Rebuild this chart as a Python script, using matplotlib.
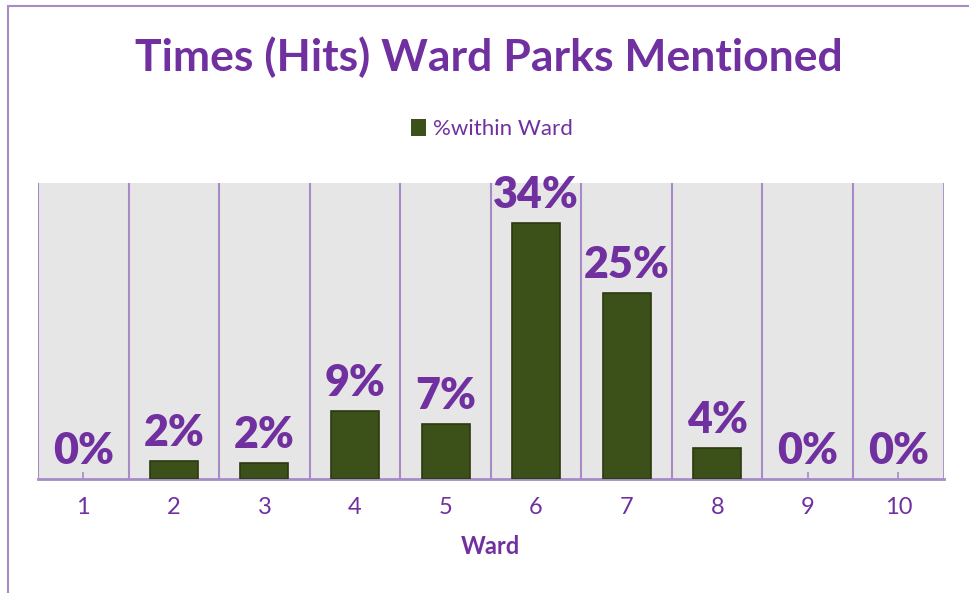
import matplotlib.pyplot as plt
from matplotlib.patches import Rectangle

wards = ['1', '2', '3', '4', '5', '6', '7', '8', '9', '10']
pct_within_ward = [0.0, 0.024, 0.021, 0.090, 0.073, 0.340, 0.247, 0.041, 0.0, 0.0]
bar_labels = ['0%', '2%', '2%', '9%', '7%', '34%', '25%', '4%', '0%', '0%']

purple = '#7030A0'
grid_purple = '#A68BC6'
bar_green = '#3C501A'

plt.rcParams['font.family'] = ['Lato', 'DejaVu Sans']

fig = plt.figure(figsize=(9.70, 5.93), dpi=100)
ax = fig.add_axes([0.0392, 0.1922, 0.9336, 0.4992])

x = list(range(len(wards)))
edge_w = [1.2 if v > 0 else 0 for v in pct_within_ward]
bars = ax.bar(x, pct_within_ward, width=0.53, color=bar_green,
              edgecolor='#2B3A10', linewidth=edge_w, label='%within Ward', zorder=3)

for xi, v, lab in zip(x, pct_within_ward, bar_labels):
    ax.annotate(lab, (xi, v), xytext=(0, 6), textcoords='offset points',
                ha='center', va='bottom', fontsize=31, fontweight='heavy',
                color=purple, zorder=4, annotation_clip=False)

ax.set_xlim(-0.5, len(wards) - 0.5)
ax.set_ylim(0, 0.393)
ax.set_facecolor('#E7E6E6')

# vertical lines between categories
for b in range(1, len(wards)):
    ax.axvline(b - 0.5, color=grid_purple, linewidth=1.5, zorder=1)

for side in ['top', 'right', 'left']:
    ax.spines[side].set_visible(False)
ax.spines['bottom'].set_color(grid_purple)
ax.spines['bottom'].set_linewidth(2)
ax.axvline(-0.5, color=grid_purple, linewidth=1.5, zorder=1)
ax.axvline(len(wards) - 0.5, color=grid_purple, linewidth=2, zorder=1)

ax.set_xticks(x)
ax.set_xticklabels(wards)
ax.tick_params(axis='x', direction='in', length=5, width=1.2, color=grid_purple,
               labelsize=17, labelcolor=purple, pad=13)
ax.set_yticks([])

ax.set_xlabel('Ward', fontsize=17, fontweight='bold', color=purple, labelpad=12)

fig.text(0.504, 0.904, 'Times (Hits) Ward Parks Mentioned', ha='center', va='center',
         fontsize=32, fontweight='bold', color=purple)

fig.legend(handles=[bars], loc='center', bbox_to_anchor=(0.507, 0.782), frameon=False,
           fontsize=16, labelcolor=purple, handlelength=0.7, handleheight=0.8,
           handletextpad=0.3)

fig.patches.append(Rectangle((8 / 970, -0.1), 1.2, 1.1 - 6 / 593,
                             transform=fig.transFigure, fill=False,
                             edgecolor=grid_purple, linewidth=1.5))

fig.savefig('out.png', dpi=100)
